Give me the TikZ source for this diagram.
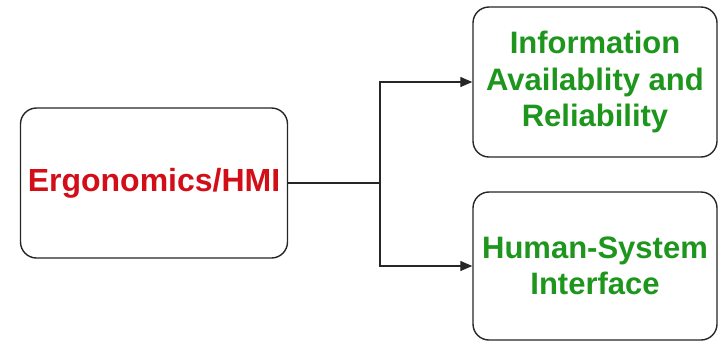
\documentclass[tikz,border=0pt]{standalone}
\usepackage{fontspec}
\setmainfont{Liberation Sans}
\usetikzlibrary{arrows.meta}
\definecolor{hmired}{RGB}{210,15,25}
\definecolor{hmigreen}{RGB}{30,150,30}
\tikzset{
  box/.style={draw=black!85, line width=1.4pt, rounded corners=16pt, fill=white,
    align=center, inner sep=0pt, font=\fontsize{31}{36.5}\selectfont\bfseries},
  link/.style={draw=black!85, line width=1.3pt, -{Triangle[length=12pt,width=10pt]}}
}
\begin{document}
\begin{tikzpicture}[x=1pt,y=-1pt]
  \useasboundingbox (0,0) rectangle (718,341);
  \node[box, minimum width=267pt, minimum height=150pt, text=hmired,
    font=\fontsize{32}{36.5}\selectfont\bfseries]
    (hmi) at (154,183) {Ergonomics/HMI};
  \node[box, minimum width=244pt, minimum height=150pt, text=hmigreen]
    (info) at (595,82) {Information\\Availablity and\\Reliability};
  \node[box, minimum width=244pt, minimum height=148pt, text=hmigreen]
    (hsi) at (595,266) {Human-System\\Interface};
  \coordinate (split) at (380,183);
  \draw[draw=black!85, line width=1.3pt] (hmi.east) -- (split);
  \draw[link] (split) |- (info.west);
  \draw[link] (split) |- (hsi.west);
\end{tikzpicture}
\end{document}
